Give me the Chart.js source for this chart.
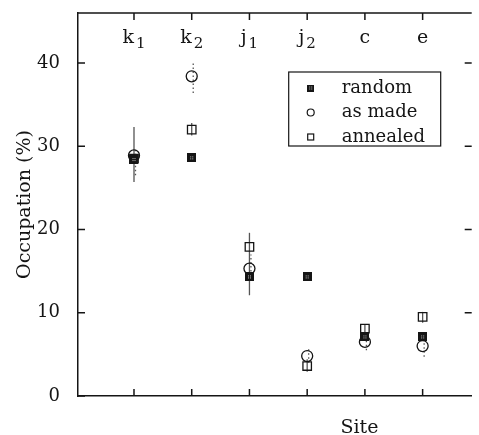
<!DOCTYPE html>
<html>
<head>
<meta charset="utf-8">
<script src="https://cdn.jsdelivr.net/npm/chart.js@4"></script>
<style>
  html, body { margin: 0; padding: 0; background: #fff; }
  #wrap { width: 479px; height: 435px; }
</style>
</head>
<body>
<div id="wrap"><canvas id="chart"></canvas></div>
<script>
// site names (letter + subscript) and their position on the x axis
const sites = ['k', 'k', 'j', 'j', 'c', 'e'];
const siteSubs = ['1', '2', '1', '2', '', ''];
const sitePos = [1, 2, 3, 4, 5, 6];
const yTicks = [0, 10, 20, 30, 40];

// occupation (%) per site
const random = [28.4, 28.6, 14.3, 14.3, 7.1, 7.1];
const asMade = [28.9, 38.4, 15.3, 4.8, 6.5, 6.0];
const annealed = [28.5, 32.0, 17.9, 3.6, 8.1, 9.5];

// error bar ends
const asMadeLow = [26.5, 36.4, 14.0, 4.0, 5.5, 4.7];
const asMadeHigh = [29.8, 40.2, 17.0, 5.9, 7.2, 6.8];
const annealedLow = [25.7, 31.3, 12.1, 2.9, 7.4, 8.8];
const annealedHigh = [32.3, 32.8, 19.6, 4.4, 8.6, 10.1];

const ink = '#151515';
const serif = '"DejaVu Serif", "Liberation Serif", serif';

// checkered filled square used for "random"
function makeRandomMark(size) {
  const c = document.createElement('canvas');
  c.width = size; c.height = size;
  const g = c.getContext('2d');
  g.fillStyle = ink;
  g.fillRect(0, 0, size, size);
  g.fillStyle = '#bbb';
  const a = Math.round(size * 0.3), b = size - a - 1;
  [[a, a], [b, a], [a, b], [b, b]].forEach(p => g.fillRect(p[0], p[1], 1, 1));
  return c;
}
const randomMark = makeRandomMark(9);
const randomMarkSmall = makeRandomMark(7);

const toPoints = arr => sitePos.map((x, i) => ({ x: x, y: arr[i] }));

const errorBars = {
  id: 'errorBars',
  beforeDatasetsDraw(chart) {
    const { ctx, scales: { x, y } } = chart;
    ctx.save();
    ctx.strokeStyle = '#555';
    ctx.lineWidth = 1.3;
    sitePos.forEach((p, i) => {
      const px = x.getPixelForValue(p);
      ctx.setLineDash([]);
      ctx.beginPath();
      ctx.moveTo(px, y.getPixelForValue(annealedLow[i]));
      ctx.lineTo(px, y.getPixelForValue(annealedHigh[i]));
      ctx.stroke();
      ctx.setLineDash([1.5, 2.5]);
      ctx.beginPath();
      ctx.moveTo(px + 1.5, y.getPixelForValue(asMadeLow[i]));
      ctx.lineTo(px + 1.5, y.getPixelForValue(asMadeHigh[i]));
      ctx.stroke();
    });
    ctx.restore();
  }
};

const frame = {
  id: 'frame',
  afterDraw(chart) {
    const { ctx, chartArea: a, scales: { x, y } } = chart;
    ctx.save();
    ctx.strokeStyle = ink;
    ctx.lineWidth = 1.5;
    // top border
    ctx.beginPath();
    ctx.moveTo(a.left, a.top);
    ctx.lineTo(a.right, a.top);
    ctx.stroke();
    // inward ticks
    ctx.beginPath();
    sitePos.forEach(p => {
      const px = x.getPixelForValue(p);
      ctx.moveTo(px, a.top); ctx.lineTo(px, a.top + 7);
      ctx.moveTo(px, a.bottom); ctx.lineTo(px, a.bottom - 7);
    });
    yTicks.forEach(v => {
      const py = y.getPixelForValue(v);
      ctx.moveTo(a.left, py); ctx.lineTo(a.left + 7, py);
      if (v > 0) { ctx.moveTo(a.right, py); ctx.lineTo(a.right - 7, py); }
    });
    ctx.stroke();

    // site labels along the top
    ctx.fillStyle = ink;
    ctx.textBaseline = 'alphabetic';
    sitePos.forEach((p, i) => {
      const px = x.getPixelForValue(p);
      ctx.font = '19px ' + serif;
      const w1 = ctx.measureText(sites[i]).width;
      ctx.font = '15px ' + serif;
      const w2 = siteSubs[i] ? ctx.measureText(siteSubs[i]).width + 2 : 0;
      const x0 = px - (w1 + w2) / 2;
      ctx.font = '19px ' + serif;
      ctx.textAlign = 'left';
      ctx.fillText(sites[i], x0, 43);
      if (siteSubs[i]) {
        ctx.font = '15px ' + serif;
        ctx.fillText(siteSubs[i], x0 + w1 + 2, 48);
      }
    });

    // x axis title
    ctx.font = '19px ' + serif;
    ctx.textAlign = 'center';
    ctx.fillText('Site', a.left + (a.right - a.left) * 0.715, 433);

    // legend
    const lx = a.right - 183, ly = a.top + 59, lw = 152, lh = 74;
    ctx.lineWidth = 1.2;
    ctx.strokeRect(lx, ly, lw, lh);
    const rows = [
      { label: 'random' },
      { label: 'as made' },
      { label: 'annealed' }
    ];
    ctx.font = '18px ' + serif;
    ctx.textAlign = 'left';
    ctx.textBaseline = 'middle';
    rows.forEach((r, k) => {
      const cy = ly + 16 + k * 24.5;
      const mx = lx + 22;
      ctx.lineWidth = 1.2;
      if (k === 0) {
        ctx.drawImage(randomMarkSmall, mx - 3.5, cy - 3.5);
      } else if (k === 1) {
        ctx.beginPath();
        ctx.arc(mx, cy, 3.5, 0, Math.PI * 2);
        ctx.stroke();
      } else {
        ctx.strokeRect(mx - 3, cy - 3, 6, 6);
      }
      ctx.fillText(r.label, lx + 53, cy);
    });
    ctx.restore();
  }
};

new Chart(document.getElementById('chart'), {
  type: 'scatter',
  data: {
    datasets: [
      {
        label: 'random',
        data: toPoints(random),
        pointStyle: randomMark,
        pointRadius: 4.5
      },
      {
        label: 'as made',
        data: toPoints(asMade),
        pointStyle: 'circle',
        pointRadius: 5.5,
        borderColor: ink,
        borderWidth: 1.3,
        backgroundColor: 'rgba(255,255,255,0)'
      },
      {
        label: 'annealed',
        data: toPoints(annealed),
        pointStyle: 'rect',
        pointRadius: 6,
        borderColor: ink,
        borderWidth: 1.3,
        backgroundColor: 'rgba(255,255,255,0)'
      }
    ]
  },
  options: {
    responsive: true,
    maintainAspectRatio: false,
    animation: false,
    layout: { padding: { top: 13, right: 6, left: 0, bottom: 0 } },
    plugins: {
      legend: { display: false },
      tooltip: { enabled: false }
    },
    scales: {
      x: {
        type: 'linear',
        min: 0.03,
        max: 6.85,
        grid: { display: false },
        border: { display: true, color: ink, width: 1.5 },
        ticks: { display: false },
        afterFit: s => { s.height = 39; }
      },
      y: {
        min: 0,
        max: 46,
        grid: { display: false },
        border: { display: true, color: ink, width: 1.5 },
        afterBuildTicks: s => { s.ticks = yTicks.map(v => ({ value: v })); },
        ticks: {
          color: ink,
          padding: 10,
          font: { family: serif, size: 18 }
        },
        title: {
          display: true,
          text: 'Occupation (%)',
          color: ink,
          padding: { top: 14, bottom: 0 },
          font: { family: serif, size: 19 }
        },
        afterFit: s => { s.width = 78; s.paddingTop = 0; s.paddingBottom = 0; }
      }
    }
  },
  plugins: [errorBars, frame]
});
</script>
</body>
</html>
